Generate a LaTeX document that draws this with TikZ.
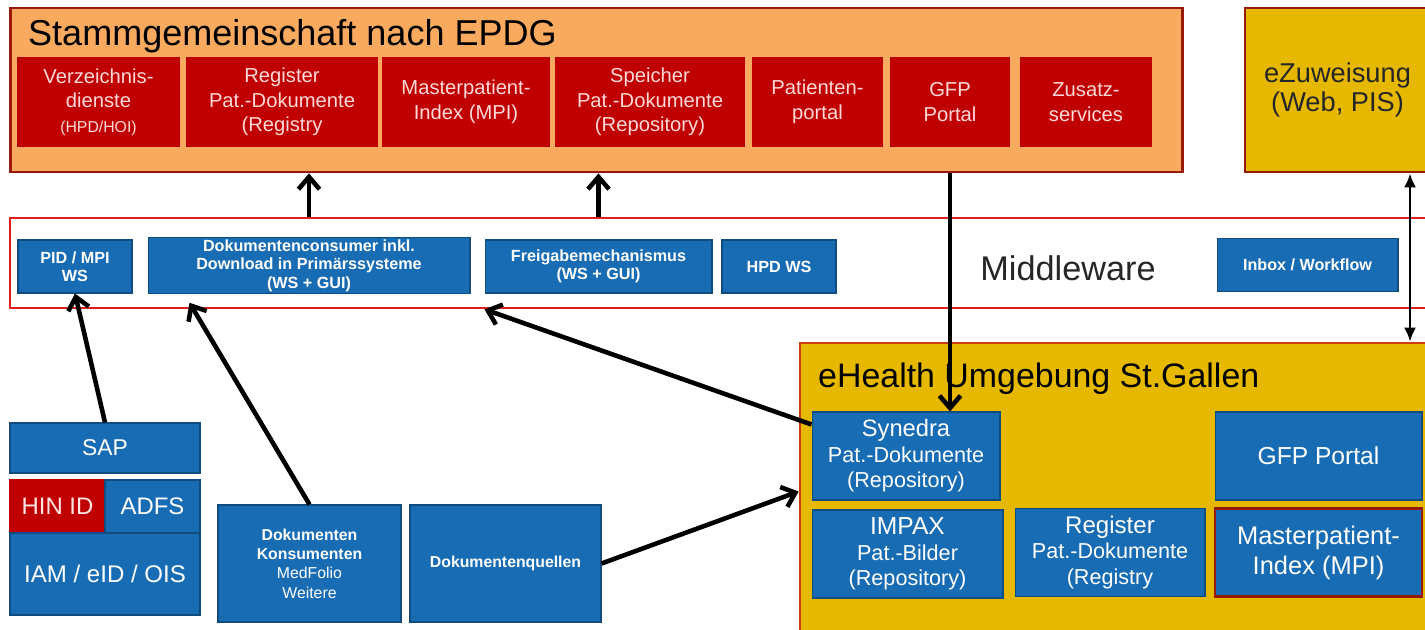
\documentclass[tikz,border=0pt]{standalone}
\usepackage{fontspec}
\setmainfont{Liberation Sans}
\usetikzlibrary{arrows.meta,calc}

\definecolor{stammfill}{RGB}{250,170,95}
\definecolor{darkrand}{RGB}{150,25,10}
\definecolor{ehrand}{RGB}{205,60,20}
\definecolor{boxred}{RGB}{192,0,0}
\definecolor{boxblue}{RGB}{24,108,180}
\definecolor{goldfill}{RGB}{230,185,0}
\definecolor{mwred}{RGB}{225,30,30}

\begin{document}
\begin{tikzpicture}[x=0.02cm,y=-0.02cm,
    pfeil/.style={line width=2.6pt,-{Straight Barb[length=7pt,width=12pt]}}]

  \useasboundingbox (0,0) rectangle (1425,629);
  \clip (0,0) rectangle (1425,629);

  % grosse Rahmen
  \node[draw=darkrand,fill=stammfill,line width=1.6pt,minimum width=23.46cm,minimum height=3.28cm] (stamm) at (596.5,90) {};
  \node[anchor=base west,font=\fontsize{20.5}{24}\selectfont] (stammtitel) at (22,45) {Stammgemeinschaft nach EPDG};

  \node[draw=darkrand,fill=goldfill,line width=1.6pt,minimum width=3.7cm,minimum height=3.28cm,
        align=center,text=black!85,font=\fontsize{15.5}{17}\selectfont] (ezuw) at (1337.5,90) {eZuweisung\\(Web, PIS)};

  \node[draw=mwred,fill=white,line width=1.5pt,minimum width=28.6cm,minimum height=1.8cm] (mw) at (725,263) {};
  \node[font=\fontsize{19.5}{22}\selectfont,text=black!85] (mwtitel) at (1068,268) {Middleware};

  \node[draw=ehrand,fill=goldfill,line width=1.6pt,minimum width=12.8cm,minimum height=5.94cm] (ehealth) at (1120,491.5) {};
  \node[anchor=base west,font=\fontsize{19.3}{22}\selectfont] (ehtitel) at (812,387) {eHealth Umgebung St.Gallen};

  % rote Dienste der Stammgemeinschaft
  \begin{scope}[every node/.style={fill=boxred,text=white!85!red,align=center,inner sep=1pt,
      minimum height=1.8cm,font=\fontsize{11.5}{14}\selectfont}]
    \node[minimum width=3.26cm] (verz)     at (98.5,102)  {Verzeichnis-\\dienste\\{\fontsize{9}{14}\selectfont(HPD/HOI)}};
    \node[minimum width=3.84cm] (regist)   at (282,102)   {Register\\Pat.-Dokumente\\(Registry};
    \node[minimum width=3.36cm] (mpi)      at (466,102)   {Masterpatient-\\Index (MPI)};
    \node[minimum width=3.8cm]  (speicher) at (650,102)   {Speicher\\Pat.-Dokumente\\(Repository)};
    \node[minimum width=2.62cm] (patport)  at (817.5,102) {Patienten-\\portal};
    \node[minimum width=2.4cm]  (gfp)      at (950,102)   {GFP\\Portal};
    \node[minimum width=2.64cm] (zusatz)   at (1086,102)  {Zusatz-\\services};
  \end{scope}

  % blaue Boxen
  \begin{scope}[every node/.style={fill=boxblue,draw=boxblue!70!black,line width=0.6pt,text=white,
      align=center,inner sep=1pt}]
    % Middleware
    \begin{scope}[every node/.append style={font=\bfseries\fontsize{9.2}{10.5}\selectfont,minimum height=1.06cm}]
      \node[minimum width=2.28cm] (pidmpi)   at (75,266.5)   {PID / MPI\\WS};
      \node[minimum width=6.44cm] (dokcons)  at (309,265.5)  {Dokumentenconsumer inkl.\\Download in Primärssysteme\\(WS + GUI)};
      \node[minimum width=4.54cm] (freigabe) at (598.5,266.5) {Freigabemechanismus\\(WS + GUI)};
      \node[minimum width=2.28cm] (hpdws)    at (779,266.5)  {HPD WS};
      \node[minimum width=3.62cm] (inbox)    at (1307.5,265) {Inbox / Workflow};
    \end{scope}

    % eHealth Umgebung
    \begin{scope}[every node/.append style={font=\fontsize{12.3}{14.5}\selectfont,minimum height=1.76cm}]
      \node[minimum width=3.76cm] (synedra) at (906,456)     {{\fontsize{13.5}{14.5}\selectfont Synedra}\\Pat.-Dokumente\\(Repository)};
      \node[minimum width=4.14cm] (gfpblau) at (1318.5,456)  {\fontsize{14}{16}\selectfont GFP Portal};
      \node[minimum width=3.82cm] (impax)   at (907.5,554)   {{\fontsize{14}{14.5}\selectfont IMPAX}\\Pat.-Bilder\\(Repository)};
      \node[minimum width=3.8cm]  (regblau) at (1110,552.5)  {{\fontsize{13.7}{14.5}\selectfont Register}\\Pat.-Dokumente\\(Registry};
      \node[minimum width=4.14cm,draw=darkrand,line width=1.4pt,font=\fontsize{14.5}{17}\selectfont]
                                  (mpiblau) at (1318.5,552.5) {Masterpatient-\\Index (MPI)};
    \end{scope}

    % links unten
    \node[minimum width=3.8cm,minimum height=1.0cm,font=\fontsize{13}{15}\selectfont] (sap) at (105,448) {SAP};
    \node[minimum width=1.9cm,minimum height=1.06cm,fill=boxred,draw=boxred,text=white!90!red,
          font=\fontsize{13.6}{15}\selectfont] (hinid) at (57.5,506.5) {HIN ID};
    \node[minimum width=1.9cm,minimum height=1.06cm,font=\fontsize{13.6}{15}\selectfont] (adfs) at (152.5,506.5) {ADFS};
    \node[minimum width=3.8cm,minimum height=1.64cm,font=\fontsize{13.7}{15}\selectfont] (iam) at (105,574) {IAM / eID / OIS};
    \node[minimum width=3.66cm,minimum height=2.34cm,font=\fontsize{9}{11}\selectfont] (dokkons) at (309.5,563.5)
      {\textbf{Dokumenten}\\\textbf{Konsumenten}\\MedFolio\\Weitere};
    \node[minimum width=3.82cm,minimum height=2.34cm,font=\bfseries\fontsize{9}{11}\selectfont] (dokquellen) at (505.5,563.5)
      {Dokumentenquellen};
  \end{scope}

  % Verbindungen
  \coordinate (rechts) at (1410,0);
  \draw[pfeil] (dokcons |- mw.north) -- (dokcons |- stamm.south);
  \draw[pfeil] (freigabe |- mw.north) -- (freigabe |- stamm.south);
  \draw[pfeil] (gfp |- stamm.south) -- (gfp |- synedra.north);
  \draw[line width=1.6pt,{Latex[length=8pt,width=7pt]}-{Latex[length=8pt,width=7pt]}]
    (rechts |- ezuw.south) -- (rechts |- ehealth.north);
  \draw[pfeil] (sap.north) -- (pidmpi.south);
  \draw[pfeil] (dokkons.north) -- ($(dokcons.south west)+(42,9)$);
  \draw[pfeil] ($(synedra.north west)+(0,13)$) -- (freigabe.south west |- mw.south);
  \draw[pfeil] (dokquellen.east) -- (ehealth.west);

\end{tikzpicture}
\end{document}
